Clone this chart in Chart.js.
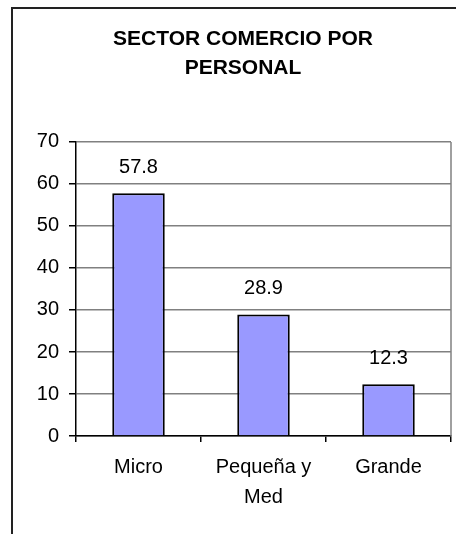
<!DOCTYPE html>
<html>
<head>
<meta charset="utf-8">
<script src="https://cdn.jsdelivr.net/npm/chart.js@4"></script>
<style>
  html, body { margin: 0; padding: 0; overflow: hidden; background: #fff; }
  #frame {
    position: absolute; left: 11px; top: 7px;
    width: 600px; height: 700px;
    border-left: 2px solid #222; border-top: 2px solid #222;
  }
  #chart { position: absolute; left: 0; top: 0; }
</style>
</head>
<body>
<div id="frame"></div>
<canvas id="chart" width="486" height="534"></canvas>
<script>
var categories = ["Micro", ["Pequeña y", "Med"], "Grande"];
var personal = [57.8, 28.9, 12.3];
var yTicks = [0, 10, 20, 30, 40, 50, 60, 70];

var FONT = "'Liberation Sans', Arial, sans-serif";

// writes each bar's value above it
var valueLabels = {
  id: "valueLabels",
  afterDatasetsDraw: function (chart) {
    var ctx = chart.ctx;
    var meta = chart.getDatasetMeta(0);
    ctx.save();
    ctx.font = "20px " + FONT;
    ctx.fillStyle = "#000";
    ctx.textAlign = "center";
    ctx.textBaseline = "middle";
    meta.data.forEach(function (bar, i) {
      ctx.fillText(personal[i].toFixed(1), bar.x, bar.y - 26);
    });
    ctx.restore();
  }
};

// grey line closing the plot on the right
var plotEdge = {
  id: "plotEdge",
  beforeDatasetsDraw: function (chart) {
    var a = chart.chartArea;
    var ctx = chart.ctx;
    ctx.save();
    ctx.strokeStyle = "#808080";
    ctx.lineWidth = 1.5;
    ctx.beginPath();
    ctx.moveTo(a.right, a.top);
    ctx.lineTo(a.right, a.bottom);
    ctx.stroke();
    ctx.restore();
  }
};

new Chart(document.getElementById("chart"), {
  type: "bar",
  data: {
    labels: categories,
    datasets: [{
      data: personal,
      backgroundColor: "#9999FF",
      borderColor: "#000",
      borderWidth: 2,
      categoryPercentage: 0.42,
      barPercentage: 1
    }]
  },
  options: {
    responsive: false,
    animation: false,
    layout: { padding: { left: 35, right: 35, top: 0, bottom: 0 } },
    plugins: {
      legend: { display: false },
      tooltip: { enabled: false },
      title: {
        display: true,
        text: ["SECTOR COMERCIO POR", "PERSONAL"],
        color: "#000",
        font: { family: FONT, size: 21, weight: "bold", lineHeight: 1.38 },
        padding: { top: 24.5, bottom: 59.5 }
      }
    },
    scales: {
      x: {
        grid: { display: true, drawOnChartArea: false, offset: true, tickLength: 6, color: "#000", lineWidth: 1.5 },
        border: { color: "#000", width: 1.5 },
        ticks: { color: "#000", padding: 10, font: { family: FONT, size: 20, lineHeight: 1.5 }, maxRotation: 0 },
        afterFit: function (s) { s.height = 98; }
      },
      y: {
        min: 0,
        max: 70,
        afterBuildTicks: function (s) { s.ticks = yTicks.map(function (v) { return { value: v }; }); },
        grid: { color: "#808080", lineWidth: 1.5, tickColor: "#000", tickLength: 7 },
        border: { color: "#000", width: 1.5 },
        ticks: { color: "#000", padding: 10, font: { family: FONT, size: 20 } },
        afterFit: function (s) { s.width = 41; }
      }
    }
  },
  plugins: [plotEdge, valueLabels]
});
</script>
</body>
</html>
